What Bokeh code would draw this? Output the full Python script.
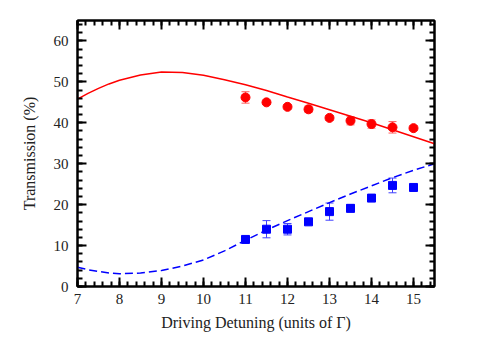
from bokeh.plotting import figure
from bokeh.models import (ColumnDataSource, Whisker, TeeHead, LinearAxis,
                          SingleIntervalTicker, Range1d, CustomJSTickFormatter)
from bokeh.embed import file_html
from bokeh.resources import INLINE

# measured data
det = [11.0, 11.5, 12.0, 12.5, 13.0, 13.5, 14.0, 14.5, 15.0]
red_y = [46.2, 45.0, 43.9, 43.3, 41.2, 40.5, 39.7, 38.9, 38.7]
red_err = [1.4, 0.5, 0.5, 0.8, 0.6, 1.0, 1.0, 1.4, 0.6]
blue_y = [11.5, 14.0, 14.0, 15.8, 18.3, 19.1, 21.6, 24.7, 24.2]
blue_err = [0.6, 2.1, 1.4, 0.7, 2.1, 0.9, 0.6, 1.8, 0.6]

# theory curves
th_x = [7.0, 7.25, 7.5, 7.75, 8.0, 8.5, 9.0, 9.5, 10.0, 10.5, 11.0, 11.5,
        12.0, 12.5, 13.0, 13.5, 14.0, 14.5, 15.0, 15.5]
th_red = [45.8, 47.2, 48.4, 49.5, 50.4, 51.7, 52.4, 52.3, 51.6, 50.5, 49.3,
          47.9, 46.3, 44.8, 43.2, 41.6, 40.0, 38.3, 36.6, 34.9]
th_blue = [4.7, 4.1, 3.7, 3.3, 3.1, 3.3, 3.9, 5.0, 6.5, 8.7, 11.3, 13.8,
           16.1, 18.3, 20.5, 22.6, 24.6, 26.6, 28.4, 30.0]

x_label = "Driving Detuning (units of \u0393)"
y_label = "Transmission (%)"

FONT = "Liberation Serif"

p = figure(frame_width=357, frame_height=266, output_backend="svg",
           toolbar_location=None, x_range=Range1d(7, 15.5),
           y_range=Range1d(0, 65), min_border_left=77, min_border_right=49,
           min_border_top=20, min_border_bottom=54)
p.xgrid.visible = False
p.ygrid.visible = False
p.outline_line_color = "black"
p.outline_line_width = 2
p.background_fill_color = "white"
p.border_fill_color = "white"

def style_axis(ax, ticker, show_labels=True):
    ax.ticker = ticker
    ax.axis_line_width = 2
    ax.major_tick_line_width = 2
    ax.minor_tick_line_width = 2
    ax.major_tick_in = 9
    ax.major_tick_out = 0
    ax.minor_tick_in = 5
    ax.minor_tick_out = 0
    ax.major_label_text_font = FONT
    ax.major_label_text_font_size = "15px"
    ax.major_label_text_color = "#222222"
    ax.axis_label_text_font = FONT
    ax.axis_label_text_font_size = "16px"
    ax.axis_label_text_font_style = "normal"
    ax.axis_label_text_color = "#222222"
    if not show_labels:
        ax.formatter = CustomJSTickFormatter(code="return ''")
        ax.major_label_standoff = 0

xt = SingleIntervalTicker(interval=1, num_minor_ticks=5)
yt = SingleIntervalTicker(interval=10, num_minor_ticks=5)

style_axis(p.xaxis[0], xt)
style_axis(p.yaxis[0], yt)
p.xaxis[0].axis_label = x_label
p.yaxis[0].axis_label = y_label
p.xaxis[0].major_label_standoff = 7
p.xaxis[0].axis_label_standoff = 7
p.yaxis[0].major_label_standoff = 9
p.yaxis[0].axis_label_standoff = 13

top = LinearAxis()
style_axis(top, SingleIntervalTicker(interval=1, num_minor_ticks=5), False)
p.add_layout(top, "above")
right = LinearAxis()
style_axis(right, SingleIntervalTicker(interval=10, num_minor_ticks=5), False)
p.add_layout(right, "right")

p.line(th_x, th_red, line_color="#ff0000", line_width=1.5)
p.line(th_x, th_blue, line_color="#0000ff", line_width=1.5, line_dash="8 4")

rsrc = ColumnDataSource(dict(x=det, y=red_y,
                             lo=[v - e for v, e in zip(red_y, red_err)],
                             hi=[v + e for v, e in zip(red_y, red_err)]))
bsrc = ColumnDataSource(dict(x=det, y=blue_y,
                             lo=[v - e for v, e in zip(blue_y, blue_err)],
                             hi=[v + e for v, e in zip(blue_y, blue_err)]))

for src, col in ((rsrc, "#ff6060"), (bsrc, "#4040ff")):
    w = Whisker(base="x", upper="hi", lower="lo", source=src,
                line_color=col, line_width=1,
                upper_head=TeeHead(size=8, line_color=col, line_width=1),
                lower_head=TeeHead(size=8, line_color=col, line_width=1))
    p.add_layout(w)

p.scatter("x", "y", source=rsrc, marker="circle", size=9,
          fill_color="#ff0000", line_color="#ff0000")
p.scatter("x", "y", source=bsrc, marker="square", size=8,
          fill_color="#0000ff", line_color="#0000ff")

open("out.html", "w").write(file_html(p, INLINE))
